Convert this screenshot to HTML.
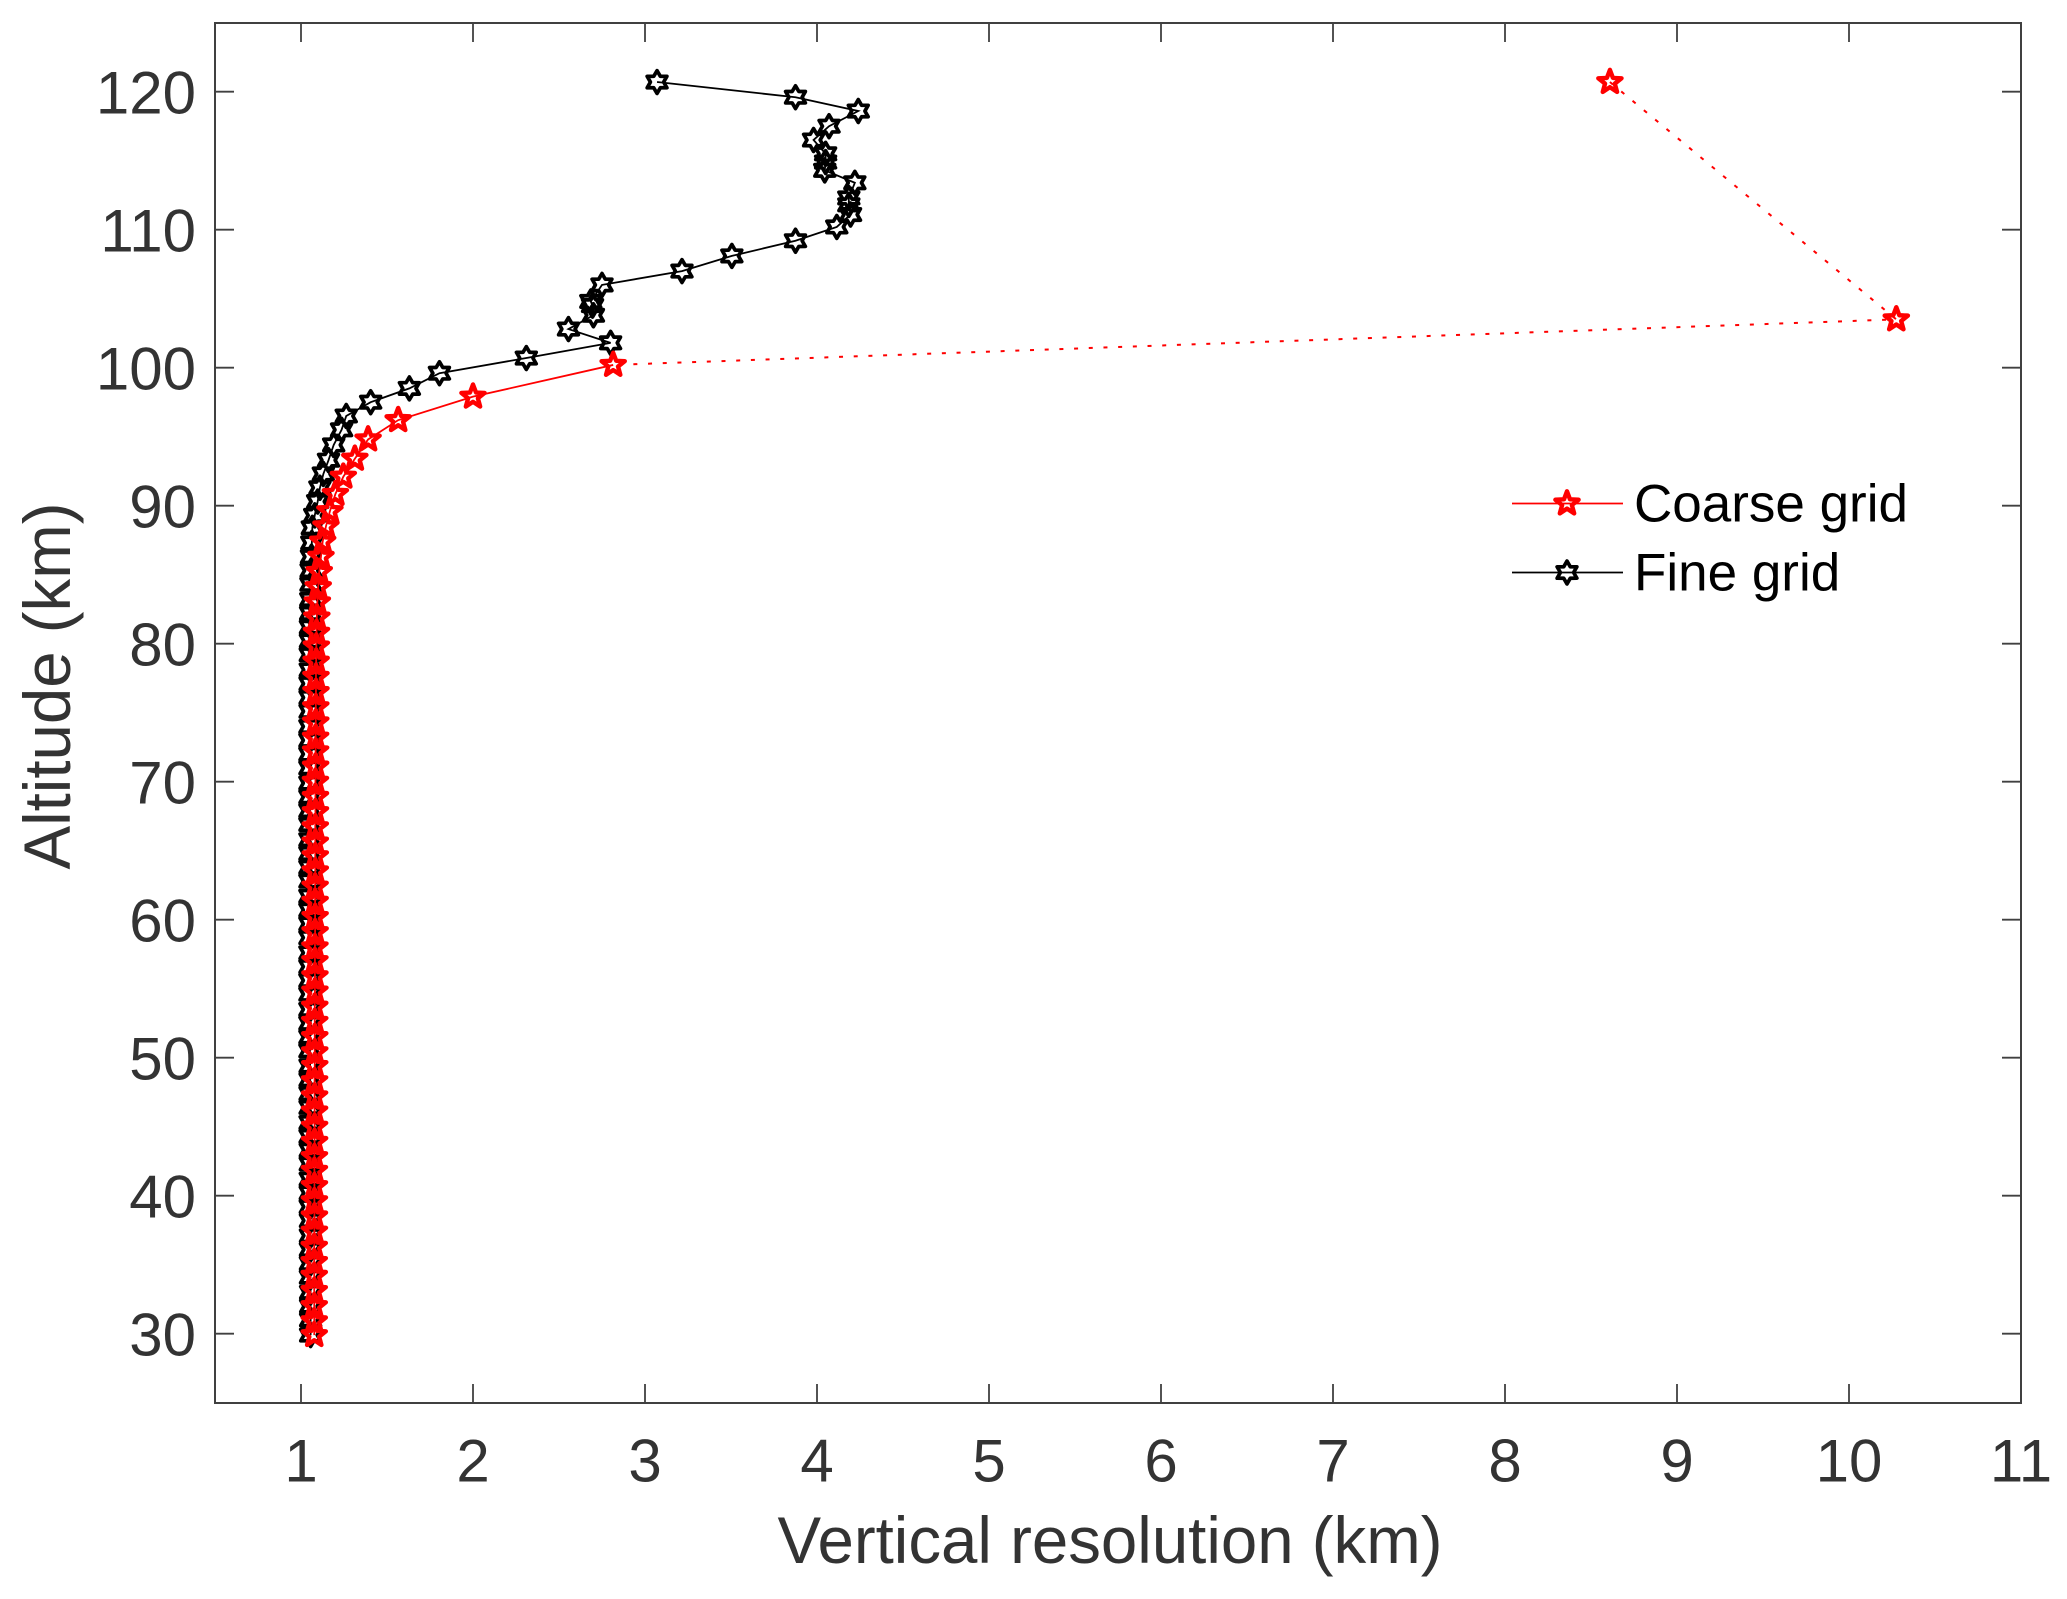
<!DOCTYPE html>
<html lang="en">
<head>
<meta charset="utf-8">
<title>Vertical resolution vs altitude</title>
<style>
html,body{margin:0;padding:0;background:#fff;width:2067px;height:1599px;overflow:hidden}
svg{display:block;font-family:"Liberation Sans",Arial,sans-serif}
</style>
</head>
<body>
<svg id="chart" width="2067" height="1599" viewBox="0 0 2067 1599" xmlns="http://www.w3.org/2000/svg">
<rect x="0" y="0" width="2067" height="1599" fill="#ffffff"/>
<rect x="215" y="23" width="1806" height="1380" fill="none" stroke="#404040" stroke-width="2"/>
<g id="ticks"></g>
<g id="tick-labels" font-size="60" fill="#333333"></g>
<text x="1110" y="1563" font-size="65.4" fill="#333333" text-anchor="middle">Vertical resolution (km)</text>
<text transform="translate(70,686) rotate(-90)" font-size="65.4" fill="#333333" text-anchor="middle">Altitude (km)</text>
<g id="series-fine"></g>
<g id="series-coarse"></g>
<g id="legend">
  <line x1="1512" y1="503.5" x2="1623" y2="503.5" stroke="#ff0000" stroke-width="1.8"/>
  <line x1="1512" y1="572.5" x2="1623" y2="572.5" stroke="#000000" stroke-width="1.8"/>
  <text x="1634" y="521.5" font-size="53" fill="#000000">Coarse grid</text>
  <text x="1634" y="590.5" font-size="53" fill="#000000">Fine grid</text>
</g>
</svg>
<script>
const xTicks = [1,2,3,4,5,6,7,8,9,10,11];
const yTicks = [30,40,50,60,70,80,90,100,110,120];

const fineResolution = [
  3.07,3.875,4.24,4.07,3.98,4.05,4.05,4.045,4.22,4.185,
  4.185,4.195,4.115,3.875,3.505,3.215,2.75,2.685,2.695,2.70,
  2.555,2.80,2.31,1.805,1.63,1.405,1.263,1.236,1.19,1.16,
  1.13,1.11,1.097,1.08,1.066,
  1.063,1.061,1.059,1.058,1.057,1.056,1.055,1.055,1.054,1.054,
  1.053,1.053,1.053,1.052,1.052,1.052,1.052,1.052,1.052,1.052,
  1.052,1.052,1.052,1.052,1.052,1.052,1.052,1.052,1.052,1.052,
  1.052,1.052,1.052,1.052,1.052,1.052,1.052,1.053,1.053,1.053,
  1.053,1.053,1.053,1.054,1.054,1.054,1.054,1.054,1.055,1.055,
  1.055,1.055,1.055,1.056,1.056,1.056,1.056
];
const fineAltitude = [
  120.7,119.6,118.6,117.5,116.5,115.5,114.9,114.3,113.4,112.3,
  111.8,111.1,110.2,109.2,108.1,107.0,106.0,104.8,104.5,103.8,
  102.8,101.8,100.7,99.6,98.5,97.5,96.5,95.5,94.4,93.3,
  92.3,91.3,90.3,89.3,88.4,
  87.3,86.3,85.3,84.3,83.2,82.2,81.2,80.2,79.2,78.1,
  77.1,76.1,75.1,74.0,73.0,72.0,71.0,69.9,68.9,67.9,
  66.9,65.8,64.8,63.8,62.8,61.7,60.7,59.7,58.7,57.6,
  56.6,55.6,54.6,53.5,52.5,51.5,50.5,49.4,48.4,47.4,
  46.4,45.3,44.3,43.3,42.3,41.2,40.2,39.2,38.2,37.1,
  36.1,35.1,34.1,33.0,32.0,31.0,29.9
];

const coarseResolution = [
  8.61,10.275,2.815,2.00,1.565,1.39,1.313,1.246,1.20,1.168,
  1.145,1.126,1.116,1.106,1.10,1.095,
  1.092,1.090,1.089,1.088,1.087,1.087,1.086,1.086,1.085,1.085,
  1.085,1.084,1.084,1.084,1.083,1.083,1.083,1.083,1.082,1.082,
  1.082,1.082,1.081,1.081,1.081,1.081,1.080,1.080,1.080,1.080,
  1.080,1.079,1.079,1.079,1.079,1.079,1.078,1.078,1.078,1.078,
  1.078,1.078,1.077,1.077,1.077,1.077,1.077,1.077,1.077
];
const coarseAltitude = [
  120.7,103.5,100.2,97.9,96.2,94.8,93.4,92.1,90.85,89.6,
  88.5,87.4,86.3,85.2,84.1,83.0,
  81.9,80.8,79.8,78.7,77.6,76.5,75.4,74.3,73.2,72.2,
  71.1,70.0,68.9,67.8,66.7,65.6,64.6,63.5,62.4,61.3,
  60.2,59.1,58.0,57.0,55.9,54.8,53.7,52.6,51.5,50.4,
  49.4,48.3,47.2,46.1,45.0,43.9,42.8,41.8,40.7,39.6,
  38.5,37.4,36.3,35.2,34.2,33.1,32.0,30.9,29.9
];
const coarseDottedSegments = 2;

const NS = 'http://www.w3.org/2000/svg';
const sx = v => 301 + (v - 1) * 172;
const sy = v => 1333.7 - (v - 30) * 13.8;

function make(tag, attrs, parent) {
  const el = document.createElementNS(NS, tag);
  for (const k in attrs) el.setAttribute(k, attrs[k]);
  parent.appendChild(el);
  return el;
}
function pentagramPath(cx, cy, R) {
  const r = R * 0.42;
  let d = '';
  for (let i = 0; i < 10; i++) {
    const a = -Math.PI / 2 + i * Math.PI / 5;
    const q = i % 2 ? r : R;
    d += (i ? 'L' : 'M') + (cx + q * Math.cos(a)).toFixed(2) + ' ' + (cy + q * Math.sin(a)).toFixed(2);
  }
  return d + 'Z';
}
function hexagramPath(cx, cy, R) {
  const r = R * 0.58;
  let d = '';
  for (let i = 0; i < 12; i++) {
    const a = -Math.PI / 2 + i * Math.PI / 6;
    const q = i % 2 ? r : R;
    d += (i ? 'L' : 'M') + (cx + q * Math.cos(a)).toFixed(2) + ' ' + (cy + q * Math.sin(a)).toFixed(2);
  }
  return d + 'Z';
}
function pointsOf(xs, ys, from, to) {
  const out = [];
  for (let i = from; i <= to; i++) out.push(sx(xs[i]).toFixed(2) + ',' + sy(ys[i]).toFixed(2));
  return out.join(' ');
}

const tickGroup = document.getElementById('ticks');
const labelGroup = document.getElementById('tick-labels');
const tickStyle = {stroke: '#404040', 'stroke-width': 1.8};

xTicks.forEach(function (t) {
  const x = sx(t);
  const bottom = make('line', Object.assign({x1: x, y1: 1403, x2: x, y2: 1384}, tickStyle), tickGroup);
  
  
  const top = make('line', Object.assign({x1: x, y1: 23, x2: x, y2: 42}, tickStyle), tickGroup);
  
  
  const label = make('text', {x: x, y: 1481.5, 'text-anchor': 'middle'}, labelGroup);
  
  
  label.textContent = t;
});
yTicks.forEach(function (t) {
  const y = sy(t);
  const left = make('line', Object.assign({x1: 215, y1: y, x2: 234, y2: y}, tickStyle), tickGroup);
  
  
  const right = make('line', Object.assign({x1: 2021, y1: y, x2: 2002, y2: y}, tickStyle), tickGroup);
  
  
  const label = make('text', {x: 196, y: y + 22, 'text-anchor': 'end'}, labelGroup);
  
  
  label.textContent = t;
});

const fineGroup = document.getElementById('series-fine');
const fineLine = make('polyline', {
  points: pointsOf(fineResolution, fineAltitude, 0, fineResolution.length - 1),
  fill: 'none', stroke: '#000000', 'stroke-width': 1.8
}, fineGroup);


fineResolution.forEach(function (v, i) {
  const m = make('path', {
    d: hexagramPath(sx(v), sy(fineAltitude[i]), 11.4),
    fill: 'none', stroke: '#000000', 'stroke-width': 3.7, 'stroke-linejoin': 'round'
  }, fineGroup);
  
  
});

const coarseGroup = document.getElementById('series-coarse');
const coarseDotted = make('polyline', {
  points: pointsOf(coarseResolution, coarseAltitude, 0, coarseDottedSegments),
  fill: 'none', stroke: '#ff0000', 'stroke-width': 2, 'stroke-dasharray': '4 10.7'
}, coarseGroup);


const coarseLine = make('polyline', {
  points: pointsOf(coarseResolution, coarseAltitude, coarseDottedSegments, coarseResolution.length - 1),
  fill: 'none', stroke: '#ff0000', 'stroke-width': 1.8
}, coarseGroup);


coarseResolution.forEach(function (v, i) {
  const m = make('path', {
    d: pentagramPath(sx(v), sy(coarseAltitude[i]), 12.2),
    fill: 'none', stroke: '#ff0000', 'stroke-width': 4.4, 'stroke-linejoin': 'round'
  }, coarseGroup);
  
  
});

const legendGroup = document.getElementById('legend');
const legendCoarse = make('path', {
  d: pentagramPath(1567, 503.5, 12.2),
  fill: 'none', stroke: '#ff0000', 'stroke-width': 4.4, 'stroke-linejoin': 'round'
}, legendGroup);


const legendFine = make('path', {
  d: hexagramPath(1567, 572.5, 11.4),
  fill: 'none', stroke: '#000000', 'stroke-width': 3.7, 'stroke-linejoin': 'round'
}, legendGroup);


</script>
</body>
</html>
